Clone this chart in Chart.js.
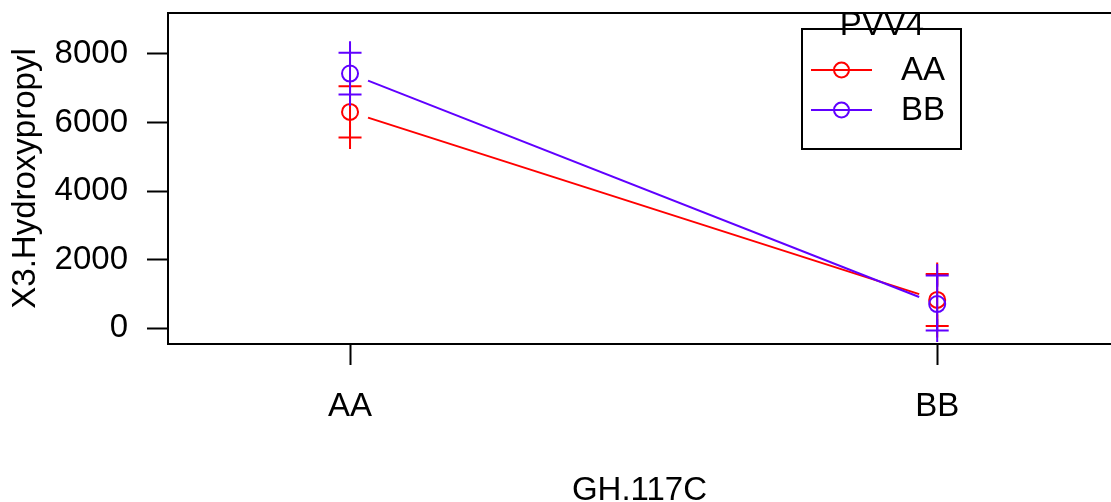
<!DOCTYPE html>
<html>
<head>
<meta charset="utf-8">
<script src="https://cdn.jsdelivr.net/npm/chart.js@4"></script>
<style>
  html, body { margin: 0; padding: 0; background: #fff; overflow: hidden; }
  #wrap { width: 1111px; height: 502px; }
</style>
</head>
<body>
<div id="wrap"><canvas id="chart" width="1111" height="502"></canvas></div>
<script>
// categories on the x axis (GH.117C) and the trace groups (PVV4)
const categories = ['AA', 'BB'];
const groups = ['AA', 'BB'];
const groupColors = ['#FF0000', '#6000FF'];

// means and error bar ends, per group, one value per category
const meanAA = [6310, 820];
const hiAA = [7060, 1580];
const loAA = [5560, 60];
const meanBB = [7430, 700];
const hiBB = [8040, 1530];
const loBB = [6820, -70];

const yTicks = [0, 2000, 4000, 6000, 8000];

const FONT = "'Liberation Sans', Arial, sans-serif";
const FSIZE = 33;

function meanPoints(means) {
  return means.map((v, i) => ({ x: i + 1, y: v }));
}

function barPoints(lo, hi) {
  const pts = [];
  lo.forEach((v, i) => {
    if (i > 0) pts.push({ x: i + 0.5, y: null });
    pts.push({ x: i + 1, y: lo[i] });
    pts.push({ x: i + 1, y: hi[i] });
  });
  return pts;
}

const series = [
  { mean: meanAA, lo: loAA, hi: hiAA },
  { mean: meanBB, lo: loBB, hi: hiBB }
];

const datasets = [];
series.forEach((s, g) => {
  datasets.push({
    label: groups[g] + ' se',
    data: barPoints(s.lo, s.hi),
    showLine: true,
    spanGaps: false,
    borderColor: groupColors[g],
    borderWidth: 2,
    pointStyle: 'cross',
    pointRadius: 11.5,
    pointBorderColor: groupColors[g],
    pointBorderWidth: 2,
    order: 2 - g
  });
  datasets.push({
    label: groups[g],
    data: meanPoints(s.mean),
    showLine: false,
    pointStyle: 'circle',
    pointRadius: 8,
    pointBackgroundColor: 'transparent',
    pointBorderColor: groupColors[g],
    pointBorderWidth: 2,
    isMean: true,
    order: 2 - g
  });
});

// connects the means like R's type = "b": line with a gap at each point
const meanLines = {
  id: 'meanLines',
  afterDatasetsDraw(chart) {
    const ctx = chart.ctx;
    const ca = chart.chartArea;
    ctx.save();
    ctx.beginPath();
    ctx.rect(ca.left, ca.top, ca.right - ca.left, ca.bottom - ca.top);
    ctx.clip();
    chart.data.datasets.forEach((ds, i) => {
      if (!ds.isMean) return;
      const pts = chart.getDatasetMeta(i).data;
      ctx.strokeStyle = ds.pointBorderColor;
      ctx.lineWidth = 2;
      for (let k = 0; k < pts.length - 1; k++) {
        const a = pts[k], b = pts[k + 1];
        const t = 18 / (b.x - a.x);
        ctx.beginPath();
        ctx.moveTo(a.x + t * (b.x - a.x), a.y + t * (b.y - a.y));
        ctx.lineTo(b.x - t * (b.x - a.x), b.y - t * (b.y - a.y));
        ctx.stroke();
      }
    });
    ctx.restore();
  }
};

// top edge of the box and the legend (clipped to the plot like R)
const boxAndLegend = {
  id: 'boxAndLegend',
  afterDraw(chart) {
    const ctx = chart.ctx;
    const ca = chart.chartArea;
    ctx.save();
    ctx.strokeStyle = '#000';
    ctx.lineWidth = 2;
    ctx.beginPath();
    ctx.moveTo(ca.left - 1, ca.top);
    ctx.lineTo(ca.right, ca.top);
    ctx.stroke();

    ctx.beginPath();
    ctx.rect(ca.left, ca.top + 1, ca.right - ca.left, ca.bottom - ca.top - 1);
    ctx.clip();

    ctx.lineWidth = 2;
    ctx.strokeRect(802, 29, 159, 120);

    ctx.fillStyle = '#000';
    ctx.font = FSIZE + 'px ' + FONT;
    ctx.textAlign = 'center';
    ctx.textBaseline = 'alphabetic';
    ctx.fillText('PVV4', 882, 35);

    groups.forEach((name, g) => {
      const y = 70 + g * 40;
      ctx.strokeStyle = groupColors[g];
      ctx.lineWidth = 2;
      ctx.beginPath();
      ctx.moveTo(811, y);
      ctx.lineTo(872, y);
      ctx.stroke();
      ctx.beginPath();
      ctx.arc(841.5, y, 7.5, 0, Math.PI * 2);
      ctx.stroke();
      ctx.fillStyle = '#000';
      ctx.textAlign = 'left';
      ctx.textBaseline = 'middle';
      ctx.fillText(name, 901, y + 1);
    });
    ctx.restore();
  }
};

new Chart(document.getElementById('chart'), {
  type: 'line',
  data: { datasets: datasets },
  options: {
    responsive: false,
    animation: false,
    layout: { autoPadding: false, padding: { left: 0, top: 13, right: 0, bottom: 0 } },
    plugins: {
      legend: { display: false },
      tooltip: { enabled: false },
      title: { display: false }
    },
    scales: {
      x: {
        type: 'linear',
        min: 0.69,
        max: 2.296,
        afterFit: (scale) => {
          scale.height = 158;
          scale.paddingLeft = 0;
          scale.paddingRight = 0;
        },
        afterBuildTicks: (scale) => {
          scale.ticks = categories.map((c, i) => ({ value: i + 1 }));
        },
        ticks: {
          color: '#000',
          font: { family: FONT, size: FSIZE },
          padding: 22,
          maxRotation: 0,
          autoSkip: false,
          callback: (v) => categories[v - 1]
        },
        grid: {
          display: true,
          drawOnChartArea: false,
          drawTicks: true,
          tickLength: 21,
          tickWidth: 2,
          tickColor: '#000'
        },
        border: { display: true, color: '#000', width: 2 },
        title: {
          display: true,
          text: 'GH.117C',
          color: '#000',
          font: { family: FONT, size: FSIZE },
          padding: { top: 0, bottom: -9 }
        }
      },
      y: {
        type: 'linear',
        min: -467,
        max: 9197,
        afterFit: (scale) => {
          scale.width = 168;
          scale.paddingTop = 0;
          scale.paddingBottom = 0;
        },
        afterBuildTicks: (scale) => {
          scale.ticks = yTicks.map((v) => ({ value: v }));
        },
        ticks: {
          color: '#000',
          font: { family: FONT, size: FSIZE },
          padding: 19,
          callback: (v) => String(v)
        },
        grid: {
          display: true,
          drawOnChartArea: false,
          drawTicks: true,
          tickLength: 21,
          tickWidth: 2,
          tickColor: '#000'
        },
        border: { display: true, color: '#000', width: 2 },
        title: {
          display: true,
          text: 'X3.Hydroxypropyl',
          color: '#000',
          font: { family: FONT, size: FSIZE },
          padding: { top: 6, bottom: 0 }
        }
      }
    }
  },
  plugins: [meanLines, boxAndLegend]
});
</script>
</body>
</html>
